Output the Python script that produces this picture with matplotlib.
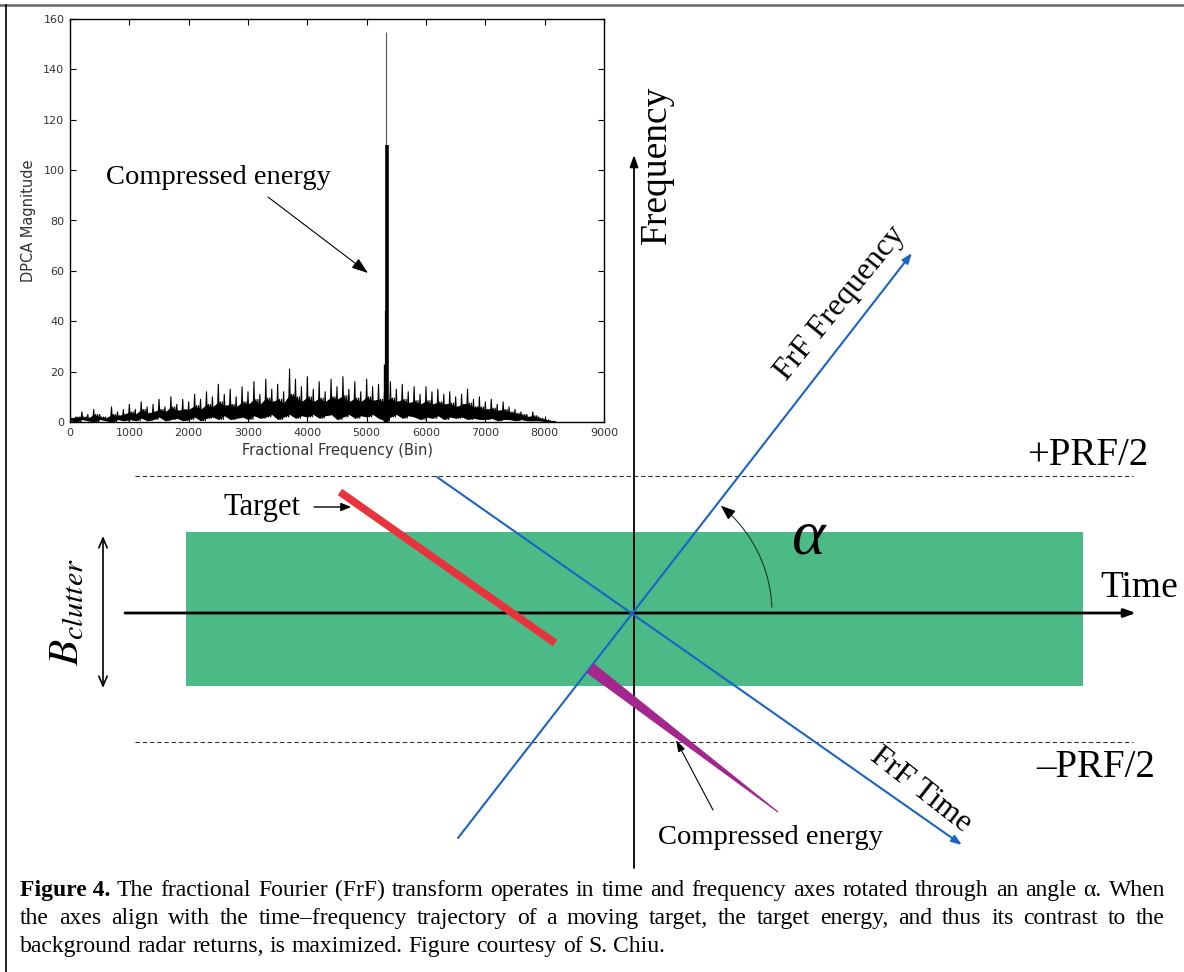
import numpy as np
import matplotlib.pyplot as plt
from matplotlib.patches import Rectangle, Polygon

plt.rcParams['mathtext.fontset'] = 'stix'
SERIF = 'Liberation Serif'

# ---- inset spectrum values (one sample per 100 bins) ----
bins = np.arange(0, 8200, 100)
noise_hi = [3, 2, 4, 3, 5, 3, 2, 6, 4, 5,
            7, 5, 8, 6, 7, 9, 6, 10, 7, 9,
            8, 11, 9, 12, 10, 15, 11, 13, 10, 14,
            12, 16, 11, 17, 13, 15, 12, 21, 17, 14,
            18, 13, 16, 12, 17, 14, 18, 13, 16, 12,
            17, 14, 15, 12, 16, 13, 15, 12, 14, 11,
            14, 12, 13, 11, 12, 10, 11, 13, 9, 10,
            8, 9, 7, 8, 6, 5, 4, 3, 4, 2,
            1, 0.5]
noise_mid = [1.5, 2, 2, 1.5, 3, 2, 1.5, 3, 2.5, 3,
             4, 3, 5, 3.5, 4, 5, 4, 6, 4.5, 5,
             5, 6.5, 5, 7, 6, 8, 6.5, 7, 6, 8,
             7, 9, 7, 9.5, 8, 9, 7.5, 11, 10, 8,
             10, 8, 9.5, 8, 10, 9, 10.5, 8, 9.5, 8,
             10, 8.5, 9, 8, 9.5, 8, 9, 7.5, 8.5, 7,
             8.5, 7, 8, 7, 7.5, 6, 7, 7.5, 6, 6,
             5, 5.5, 4.5, 5, 4, 3.5, 3, 2, 2.5, 1.5,
             0.8, 0.3]
noise_lo = [0.5, 0, 1, 0.5, 0, 1, 0.5, 0, 1, 0.5,
            1, 0.5, 1.5, 0.5, 1, 2, 0.5, 1, 1.5, 0.5,
            1, 2, 0.5, 1.5, 2, 1, 2.5, 1, 1.5, 2,
            1, 2.5, 1.5, 2, 3, 1, 2, 3, 1.5, 2.5,
            2, 3, 1.5, 2.5, 3, 1, 2, 3, 1.5, 2.5,
            2, 3, 1.5, 0.5, 2, 3, 1.5, 2.5, 2, 1,
            2, 1.5, 2.5, 1, 2, 1.5, 2, 1, 1.5, 1,
            1, 1.5, 0.5, 1, 1, 0.5, 1, 0.5, 0.5, 0.5,
            0.2, 0]
spike_bins = [5290, 5320, 5330, 5345]
spike_vals = [23, 44, 155, 110]
spike_widths = [1.0, 1.6, 0.8, 2.6]
spike_colors = ['k', 'k', '#555555', 'k']

x_ticks = list(range(0, 10000, 1000))
y_ticks = list(range(0, 180, 20))

# ---- diagram geometry (figure pixels, y downward) ----
origin = (634, 613)
clutter_box = (186, 532, 1083, 686)       # x0, y0, x1, y1
prf_levels = [476, 742]
prf_labels = ['+PRF/2', '\u2013PRF/2']
frf_time_line = [(437, 477), (962, 845)]
frf_freq_line = [(458, 838), (912, 253)]
target_line = [(340, 492), (555, 643)]
compressed_line = [(590, 668), (778, 812)]
compressed_width = [6.0, 0.6]
alpha_angles = [2.5, 51.0]                # degrees of the rotation arc
alpha_radius = 138

caption_lines = [
    ['The', 'fractional', 'Fourier', '(FrF)', 'transform', 'operates', 'in', 'time', 'and',
     'frequency', 'axes', 'rotated', 'through', 'an', 'angle', '\u03b1.', 'When'],
    ['the', 'axes', 'align', 'with', 'the', 'time\u2013frequency', 'trajectory', 'of', 'a',
     'moving', 'target,', 'the', 'target', 'energy,', 'and', 'thus', 'its', 'contrast', 'to', 'the'],
    ['background', 'radar', 'returns,', 'is', 'maximized.', 'Figure', 'courtesy', 'of', 'S.', 'Chiu.'],
]

fig = plt.figure(figsize=(11.84, 9.72), dpi=100)

# ---- inset spectrum ----
W, H = 1184, 972
ax_in = fig.add_axes([70 / W, 1 - 422 / H, (604 - 70) / W, (422 - 19) / H])
zx, zy = [], []
for b, hi, mid, lo in zip(bins, noise_hi, noise_mid, noise_lo):
    zx += [b, b + 16, b + 33, b + 50, b + 66, b + 83]
    zy += [hi, lo, mid, lo, mid, lo]
ax_in.fill_between(bins, noise_lo, noise_mid, color='k', lw=0)
ax_in.plot(zx, zy, color='k', lw=0.8)
for sb, sv, sw, sc in zip(spike_bins, spike_vals, spike_widths, spike_colors):
    ax_in.vlines(sb, 0, sv, color=sc, lw=sw)
ax_in.set_xlim(0, 9000)
ax_in.set_ylim(0, 160)
ax_in.set_xticks(x_ticks)
ax_in.set_yticks(y_ticks)
ax_in.tick_params(direction='in', top=True, right=True, length=4, labelsize=8,
                  labelcolor='#333333', pad=4)
ax_in.set_xlabel('Fractional Frequency (Bin)', fontsize=10.5, color='#333333', labelpad=4)
ax_in.set_ylabel('DPCA Magnitude', fontsize=10.5, color='#333333', labelpad=5)
for s in ax_in.spines.values():
    s.set_linewidth(1.0)

# ---- overlay diagram axes in pixel units ----
ax = fig.add_axes([0, 0, 1, 1], facecolor='none')
ax.set_xlim(0, W)
ax.set_ylim(H, 0)
ax.axis('off')

# frame
ax.plot([0, W], [5, 5], color='#666666', lw=1.8)
ax.plot([6, 6], [5, H], color='k', lw=1.2)

# clutter band
x0, y0, x1, y1 = clutter_box
ax.add_patch(Rectangle((x0, y0), x1 - x0, y1 - y0, color='#4cba87', lw=0, zorder=1))

# PRF limits
for yl in prf_levels:
    ax.plot([135, 1133], [yl, yl], color='#333333', lw=0.8, dashes=(4, 2.5), zorder=2)
ax.text(1148, 455, prf_labels[0], ha='right', va='center', fontsize=28, family=SERIF)
ax.text(1155, 767, prf_labels[1], ha='right', va='center', fontsize=28, family=SERIF)

# time and frequency axes
ax.annotate('', xy=(1136, origin[1]), xytext=(125, origin[1]),
            arrowprops=dict(arrowstyle='-|>,head_length=0.7,head_width=0.25', color='k',
                            lw=2, mutation_scale=10, shrinkA=0, shrinkB=0), zorder=3)
ax.annotate('', xy=(origin[0], 155), xytext=(origin[0], 868),
            arrowprops=dict(arrowstyle='-|>,head_length=0.7,head_width=0.25', color='k',
                            lw=1.3, mutation_scale=10, shrinkA=0, shrinkB=0), zorder=3)
ax.text(1139, 588, 'Time', ha='center', va='center', fontsize=27, family=SERIF)
ax.text(657, 165, 'Frequency', ha='center', va='center', rotation=90,
        fontsize=27, family=SERIF)

# rotated FrF axes
blue = '#1b63c6'
for (p0, p1) in [frf_time_line, frf_freq_line]:
    ax.annotate('', xy=p1, xytext=p0,
                arrowprops=dict(arrowstyle='-|>,head_length=0.6,head_width=0.22', color=blue,
                                lw=1.5, mutation_scale=10, shrinkA=0, shrinkB=0), zorder=4)
ax.text(840, 303, 'FrF Frequency', ha='center', va='center', rotation=51,
        rotation_mode='anchor', fontsize=23, family=SERIF)
ax.text(921, 790, 'FrF Time', ha='center', va='center', rotation=-38,
        rotation_mode='anchor', fontsize=23, family=SERIF)

# target trajectory
(tx0, ty0), (tx1, ty1) = target_line
ax.plot([tx0, tx1], [ty0, ty1], color='#e8323c', lw=5.5, solid_capstyle='butt', zorder=5)
ax.text(262, 507, 'Target', ha='center', va='center', fontsize=22, family=SERIF)
ax.annotate('', xy=(351, 507), xytext=(314, 507),
            arrowprops=dict(arrowstyle='-|>,head_length=0.6,head_width=0.25', color='k',
                            lw=1.0, mutation_scale=10, shrinkA=0, shrinkB=0))

# compressed energy wedge
(cx0, cy0), (cx1, cy1) = compressed_line
d = np.array([cx1 - cx0, cy1 - cy0], dtype=float)
d /= np.hypot(*d)
nrm = np.array([-d[1], d[0]])
w0, w1 = compressed_width
pts = [np.array([cx0, cy0]) + w0 * nrm, np.array([cx1, cy1]) + w1 * nrm,
       np.array([cx1, cy1]) - w1 * nrm, np.array([cx0, cy0]) - w0 * nrm]
ax.add_patch(Polygon(pts, closed=True, color='#a4268f', lw=0, zorder=5))
ax.text(770, 837, 'Compressed energy', ha='center', va='center', fontsize=20.5, family=SERIF)
ax.annotate('', xy=(676, 740), xytext=(713, 810),
            arrowprops=dict(arrowstyle='-|>,head_length=0.7,head_width=0.22', color='k',
                            lw=0.8, mutation_scale=10, shrinkA=0, shrinkB=0))

# rotation angle alpha
th = np.radians(np.linspace(alpha_angles[0], alpha_angles[1], 60))
arc_x = origin[0] + alpha_radius * np.cos(th)
arc_y = origin[1] - alpha_radius * np.sin(th)
ax.plot(arc_x[:-3], arc_y[:-3], color='#1a3a2a', lw=0.8, zorder=4)
ax.annotate('', xy=(arc_x[-1], arc_y[-1]), xytext=(arc_x[-5], arc_y[-5]),
            arrowprops=dict(arrowstyle='-|>,head_length=0.9,head_width=0.35', color='k',
                            lw=0.8, mutation_scale=10, shrinkA=0, shrinkB=0), zorder=4)
ax.text(808, 538, '\u03b1', ha='center', va='center', fontsize=46, family=SERIF,
        style='italic')

# clutter bandwidth
ax.annotate('', xy=(103, 536), xytext=(103, 688),
            arrowprops=dict(arrowstyle='<->,head_length=0.7,head_width=0.3', color='k',
                            lw=1.2, mutation_scale=10, shrinkA=0, shrinkB=0))
ax.text(66, 612, r'$B_{clutter}$', ha='center', va='center', rotation=90, fontsize=31)

# inset annotation
ax.text(218, 177, 'Compressed energy', ha='center', va='center', fontsize=20.5, family=SERIF)
ax.annotate('', xy=(368, 273), xytext=(268, 197),
            arrowprops=dict(arrowstyle='-|>,head_length=1.0,head_width=0.35', color='k',
                            lw=0.8, mutation_scale=10, shrinkA=0, shrinkB=0))

# ---- caption, justified ----
fig.canvas.draw()
rend = fig.canvas.get_renderer()
cap_size = 17
baselines = [896, 924, 952]
lead = ax.text(20, baselines[0], 'Figure 4.', ha='left', va='baseline', fontsize=cap_size,
               family=SERIF, weight='bold')
lead_w = lead.get_window_extent(rend).width
for i, (words, yb) in enumerate(zip(caption_lines, baselines)):
    start = 20 + lead_w + 6 if i == 0 else 20
    arts = [ax.text(0, yb, w, ha='left', va='baseline', fontsize=cap_size, family=SERIF)
            for w in words]
    widths = [a.get_window_extent(rend).width for a in arts]
    if i < 2:
        gap = (1165 - start - sum(widths)) / (len(words) - 1)
    else:
        gap = 6
    x = start
    for a, wd in zip(arts, widths):
        a.set_x(x)
        x += wd + gap

fig.savefig('out.png', dpi=100)
